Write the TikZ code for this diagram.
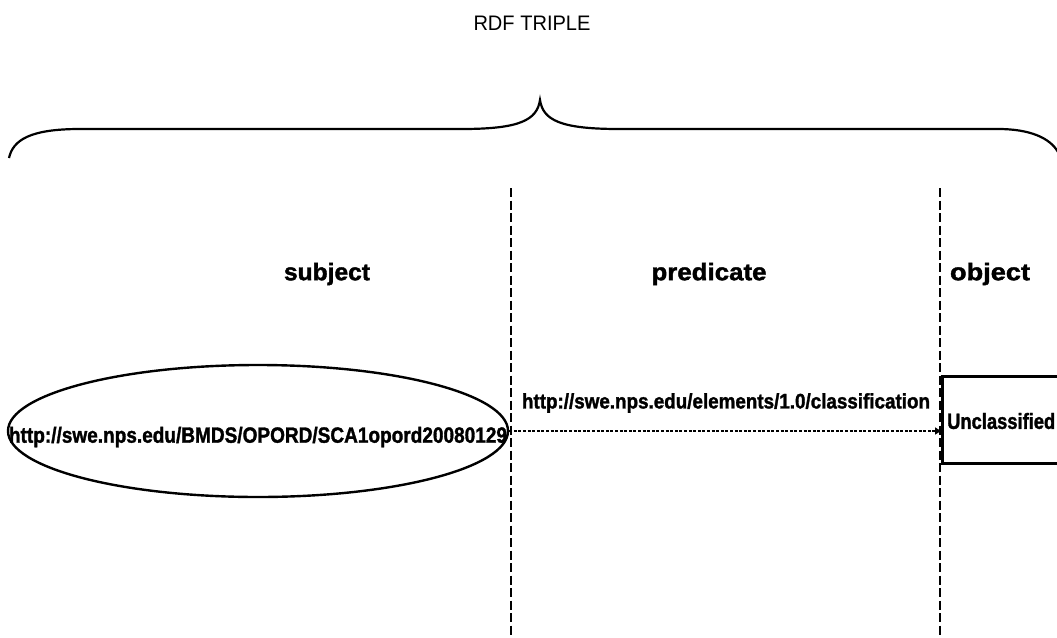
\documentclass[tikz,border=0pt]{standalone}
\usepackage{fontspec}
\setmainfont{Liberation Sans}
\newfontfamily\heavy[BoldFeatures={FakeBold=1.6}]{Liberation Sans}
\usetikzlibrary{shapes.geometric,arrows.meta}
\newcommand\fitw[2]{\resizebox{#1}{\height}{#2}}
\tikzset{
  lbl/.style={inner sep=0pt, font=\heavy\bfseries\fontsize{24}{26}\selectfont},
  urltext/.style={inner sep=0pt, font=\heavy\bfseries\fontsize{22}{24}\selectfont},
  divider/.style={line width=2.3pt, dash pattern=on 9pt off 3.5pt},
  bracepath/.style={line width=2.2pt},
  rel/.style={line width=2.8pt, dash pattern=on 3pt off 1.6pt, -{Triangle[length=6pt,width=7pt]}},
}
\begin{document}
\begin{tikzpicture}[x=1pt,y=-1pt]
\useasboundingbox (0,0) rectangle (1057,637);
\clip (0,0) rectangle (1057,637);
% title
\node[inner sep=0pt, font=\fontsize{21}{23}\selectfont] (title) at (532,23) {\fitw{117pt}{RDF TRIPLE}};
% brace
\draw[bracepath] (9,158) .. controls (13,140) and (30,129) .. (80,129)
  -- (462,129) .. controls (520,129) and (537,120) .. (540,100)
  .. controls (543,120) and (560,129) .. (619,129)
  -- (998,129) .. controls (1030,129) and (1050,138) .. (1058,152);
% dividers
\coordinate (d1top) at (511,188);
\coordinate (d1bot) at (511,637);
\coordinate (d2top) at (940,188);
\coordinate (d2bot) at (940,637);
\draw[divider] (d1top) -- (d1bot);
\draw[divider] (d2top) -- (d2bot);
% column labels
\node[lbl] (lsubj) at (327,274) {\fitw{86pt}{subject}};
\node[lbl] (lpred) at (709,274) {\fitw{115pt}{predicate}};
\node[lbl] (lobj) at (990,274) {\fitw{80pt}{object}};
% subject ellipse
\node[draw, ellipse, line width=2.4pt, minimum width=500pt, minimum height=132pt, inner sep=0pt] (subj) at (258,431) {};
\node[urltext] (subjtext) at (258,437) {\fitw{498pt}{http://swe.nps.edu/BMDS/OPORD/SCA1opord20080129}};
% object box
\node[draw, line width=3pt, anchor=west, minimum width=140pt, minimum height=87pt, inner sep=0pt] (obj) at (941,420) {};
\node[urltext, anchor=west] (objtext) at (947,421) {\fitw{108pt}{Unclassified}};
% predicate arrow
\draw[rel] (subj.east) -- (subj.east -| obj.west) coordinate (arrowend);
\node[urltext, font=\heavy\bfseries\fontsize{21}{23}\selectfont] (predtext) at (726,403) {\fitw{408pt}{http://swe.nps.edu/elements/1.0/classification}};
\end{tikzpicture}
\end{document}
